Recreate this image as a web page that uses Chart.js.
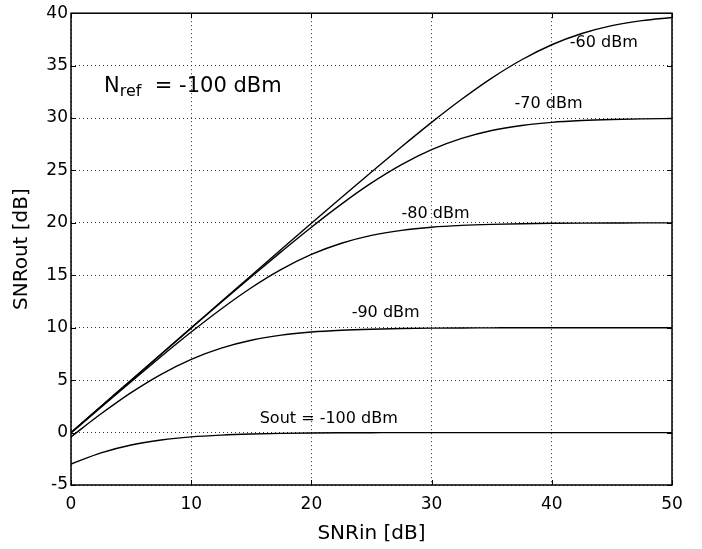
<!DOCTYPE html>
<html>
<head>
<meta charset="utf-8">
<script src="https://cdn.jsdelivr.net/npm/chart.js@4"></script>
<style>
  html, body { margin: 0; padding: 0; background: #fff; }
  #snrChart { display: block; }
</style>
</head>
<body>
<canvas id="snrChart" width="702" height="549"></canvas>
<script>
// input SNR [dB]
const snrIn = [0, 2.5, 5, 7.5, 10, 12.5, 15, 17.5, 20, 22.5, 25, 27.5, 30, 32.5, 35, 37.5, 40, 42.5, 45, 47.5, 50];

// output SNR [dB] for each signal level
const out60 = [0, 2.5, 5.0, 7.5, 10.0, 12.49, 14.99, 17.48, 19.96, 22.42, 24.86, 27.26, 29.59, 31.79, 33.81, 35.56, 36.99, 38.06, 38.81, 39.29, 39.59];
const out70 = [0, 2.49, 4.99, 7.48, 9.96, 12.43, 14.87, 17.26, 19.59, 21.79, 23.81, 25.56, 26.99, 28.06, 28.81, 29.29, 29.59, 29.76, 29.86, 29.92, 29.96];
const out80 = [-0.04, 2.42, 4.86, 7.26, 9.59, 11.79, 13.81, 15.56, 16.99, 18.06, 18.81, 19.29, 19.59, 19.76, 19.86, 19.92, 19.96, 19.98, 19.99, 20, 20];
const out90 = [-0.41, 1.79, 3.81, 5.56, 6.99, 8.06, 8.81, 9.29, 9.59, 9.76, 9.86, 9.92, 9.96, 9.98, 9.99, 10, 10, 10, 10, 10, 10];
const out100 = [-3.0, -1.94, -1.19, -0.71, -0.41, -0.24, -0.14, -0.08, -0.04, -0.02, -0.01, 0, 0, 0, 0, 0, 0, 0, 0, 0, 0];

const curveNames = ['-60 dBm', '-70 dBm', '-80 dBm', '-90 dBm', 'Sout = -100 dBm'];
const xTicks = [0, 10, 20, 30, 40, 50];
const yTicks = [-5, 0, 5, 10, 15, 20, 25, 30, 35, 40];

// where the curve labels sit (data coords, left edge / vertical middle)
const labelPos = [
    { x: 41.5, y: 37.2 },
    { x: 36.9, y: 31.35 },
    { x: 27.5, y: 20.9 },
    { x: 23.35, y: 11.45 },
    { x: 15.7, y: 1.3 }
];

const FONT = "'DejaVu Sans', sans-serif";

function toPoints(ys) {
    return snrIn.map((x, i) => ({ x: x, y: ys[i] }));
}

// box, inward tick marks and text labels, drawn after the chart
const matlabFrame = {
    id: 'matlabFrame',
    afterDraw(chart) {
        const ctx = chart.ctx;
        const a = chart.chartArea;
        const xs = chart.scales.x;
        const ys = chart.scales.y;
        ctx.save();
        ctx.strokeStyle = '#000';
        ctx.lineWidth = 1.5;
        ctx.strokeRect(a.left, a.top, a.right - a.left, a.bottom - a.top);

        // small ticks pointing inward
        ctx.lineWidth = 1;
        ctx.beginPath();
        xTicks.forEach(v => {
            const px = Math.round(xs.getPixelForValue(v)) + 0.5;
            ctx.moveTo(px, a.bottom); ctx.lineTo(px, a.bottom - 5);
            ctx.moveTo(px, a.top); ctx.lineTo(px, a.top + 5);
        });
        yTicks.forEach(v => {
            const py = Math.round(ys.getPixelForValue(v)) + 0.5;
            ctx.moveTo(a.left, py); ctx.lineTo(a.left + 5, py);
            ctx.moveTo(a.right, py); ctx.lineTo(a.right - 5, py);
        });
        ctx.stroke();

        // curve labels
        ctx.fillStyle = '#000';
        ctx.font = '16px ' + FONT;
        ctx.textAlign = 'left';
        ctx.textBaseline = 'middle';
        curveNames.forEach((name, i) => {
            ctx.fillText(name, xs.getPixelForValue(labelPos[i].x), ys.getPixelForValue(labelPos[i].y));
        });

        // N_ref annotation with subscript
        let px = xs.getPixelForValue(2.75);
        const base = ys.getPixelForValue(32.5);
        ctx.textBaseline = 'alphabetic';
        ctx.font = '21px ' + FONT;
        ctx.fillText('N', px, base);
        px += ctx.measureText('N').width;
        ctx.font = '16px ' + FONT;
        ctx.fillText('ref', px, base + 4);
        px += ctx.measureText('ref').width;
        ctx.font = '21px ' + FONT;
        ctx.fillText('  = -100 dBm', px, base);
        ctx.restore();
    }
};

const gridStyle = {
    color: '#333',
    lineWidth: 1,
    drawTicks: false
};

new Chart(document.getElementById('snrChart'), {
    type: 'line',
    data: {
        datasets: [out60, out70, out80, out90, out100].map((ys, i) => ({
            label: curveNames[i],
            data: toPoints(ys),
            borderColor: '#000',
            borderWidth: 1.4,
            pointRadius: 0,
            cubicInterpolationMode: 'monotone',
            fill: false
        }))
    },
    options: {
        responsive: false,
        animation: false,
        layout: { padding: { top: 8, right: 30, left: 0, bottom: 0 } },
        plugins: {
            legend: { display: false },
            tooltip: { enabled: false }
        },
        scales: {
            x: {
                type: 'linear',
                min: 0,
                max: 50,
                afterBuildTicks: axis => { axis.ticks = xTicks.map(v => ({ value: v })); },
                afterFit: axis => { axis.height = 64; },
                grid: gridStyle,
                border: { display: false, dash: [1, 3] },
                ticks: { color: '#000', font: { family: FONT, size: 17 }, padding: 9, maxRotation: 0 },
                title: {
                    display: true,
                    text: 'SNRin [dB]',
                    color: '#000',
                    font: { family: FONT, size: 20 },
                    padding: { top: 0, bottom: 3 }
                }
            },
            y: {
                type: 'linear',
                min: -5,
                max: 40,
                afterBuildTicks: axis => { axis.ticks = yTicks.map(v => ({ value: v })); },
                afterFit: axis => { axis.width = 71; },
                grid: gridStyle,
                border: { display: false, dash: [1, 3] },
                ticks: { color: '#000', font: { family: FONT, size: 17 }, padding: 3 },
                title: {
                    display: true,
                    text: 'SNRout [dB]',
                    color: '#000',
                    font: { family: FONT, size: 20 },
                    padding: { top: 10, bottom: 0 }
                }
            }
        }
    },
    plugins: [matlabFrame]
});
</script>
</body>
</html>
